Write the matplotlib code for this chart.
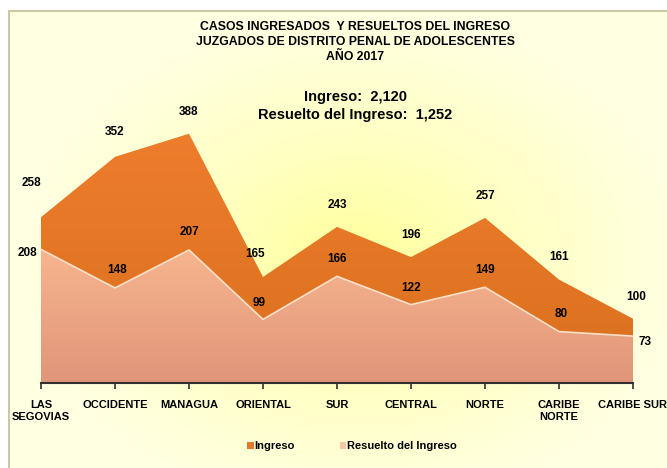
import numpy as np
import matplotlib.pyplot as plt
from matplotlib.patches import Patch, Rectangle
from matplotlib.colors import LinearSegmentedColormap

# data
regiones = ["LAS\nSEGOVIAS", "OCCIDENTE", "MANAGUA", "ORIENTAL", "SUR",
            "CENTRAL", "NORTE", "CARIBE\nNORTE", "CARIBE SUR"]
ingreso = [258, 352, 388, 165, 243, 196, 257, 161, 100]
resuelto = [208, 148, 207, 99, 166, 122, 149, 80, 73]
total_ingreso = "2,120"
total_resuelto = "1,252"
titulo = ["CASOS INGRESADOS  Y RESUELTOS DEL INGRESO",
          "JUZGADOS DE DISTRITO PENAL DE ADOLESCENTES",
          "AÑO 2017"]

plt.rcParams['font.family'] = ['Liberation Sans', 'DejaVu Sans']
plt.rcParams['font.weight'] = 'bold'

W, H = 667, 468
fig = plt.figure(figsize=(W / 100, H / 100), dpi=100)
fig.patch.set_facecolor('white')

# yellow gradient background of the chart frame
bg = fig.add_axes([9 / W, 0, 1 - 9 / W, 1 - 11 / H])
gx = np.linspace(-1, 1, 300)
gy = np.linspace(-1, 1, 200)
XX, YY = np.meshgrid(gx, gy)
rr = np.clip(np.sqrt(((XX - 0.05) / 1.0) ** 2 + ((YY + 0.1) / 1.1) ** 2), 0, 1)
bg_cmap = LinearSegmentedColormap.from_list("bg", ["#FFFF9C", "#FFFFC4", "#FFFFE2"])
bg.imshow(rr, cmap=bg_cmap, aspect='auto', extent=[0, 1, 0, 1], origin='lower')
bg.set_xlim(0, 1)
bg.set_ylim(0, 1)
bg.axis('off')
fig.add_artist(Rectangle((9 / W, -0.01), 1, 1 - 11 / H + 0.01, transform=fig.transFigure,
                         fill=False, edgecolor='#C9C9A6', linewidth=1.5))

ax = fig.add_axes([41 / W, 85 / H, (633 - 41) / W, (383 - 126) / H])
ax.patch.set_alpha(0)
x = np.arange(len(regiones))


def gradient_fill(ax, xv, yv, c_top, c_bot):
    poly = ax.fill_between(xv, 0, yv, color=c_top, linewidth=0)
    cmap = LinearSegmentedColormap.from_list("g", [c_bot, c_top])
    grad = np.linspace(0, 1, 256).reshape(-1, 1)
    im = ax.imshow(grad, cmap=cmap, aspect='auto', origin='lower',
                   extent=[xv[0], xv[-1], 0, max(yv)], zorder=poly.get_zorder())
    im.set_clip_path(poly.get_paths()[0], transform=ax.transData)
    poly.set_visible(False)
    return poly


gradient_fill(ax, x, ingreso, "#EE7D2C", "#D9701F")
gradient_fill(ax, x, resuelto, "#F7B58E", "#E0957A")
ax.plot(x, resuelto, color='#FBE0C8', linewidth=1.2)

ax.set_xlim(0, len(regiones) - 1)
ax.set_ylim(0, 400)
ax.set_yticks([])
for s in ['top', 'right', 'left']:
    ax.spines[s].set_visible(False)
ax.spines['bottom'].set_color('#303030')
ax.spines['bottom'].set_linewidth(1.5)
ax.set_xticks(x)
ax.set_xticklabels(regiones, fontsize=8, fontweight='bold', linespacing=1.3)
ax.tick_params(axis='x', length=4, width=1.2, color='#303030', pad=8)

# data labels
off_ing = [(-10, 34), (0, 25), (0, 22), (-8, 23), (0, 22), (0, 22), (0, 22), (0, 23), (3, 22)]
off_res = [(-14, -4), (2, 18), (0, 18), (-4, 16), (0, 17), (0, 17), (0, 17), (2, 18), (12, -6)]
for i in range(len(regiones)):
    ax.annotate(str(ingreso[i]), (x[i], ingreso[i]), xytext=off_ing[i],
                textcoords='offset pixels', ha='center', va='center',
                fontsize=8.5, fontweight='bold', annotation_clip=False)
    ax.annotate(str(resuelto[i]), (x[i], resuelto[i]), xytext=off_res[i],
                textcoords='offset pixels', ha='center', va='center',
                fontsize=8.5, fontweight='bold', annotation_clip=False)

for k, linea in enumerate(titulo):
    fig.text(355 / W, 1 - (27 + 15 * k) / H, linea, ha='center', va='center',
             fontsize=8.8, fontweight='bold')
fig.text(355 / W, 1 - 97 / H, "Ingreso:  " + total_ingreso,
         ha='center', va='center', fontsize=10.5, fontweight='bold')
fig.text(355 / W, 1 - 115 / H, "Resuelto del Ingreso:  " + total_resuelto,
         ha='center', va='center', fontsize=10.5, fontweight='bold')

handles = [Patch(facecolor="#E5792E", label="Ingreso"),
           Patch(facecolor="#F3C9A4", label="Resuelto del Ingreso")]
fig.legend(handles=handles, loc='center', bbox_to_anchor=(352 / W, 1 - 446 / H), ncol=2,
           frameon=False, handlelength=0.6, handleheight=0.6,
           handletextpad=0.1, columnspacing=4.0, prop={'weight': 'bold', 'size': 8})

fig.savefig("out.png", dpi=100)
